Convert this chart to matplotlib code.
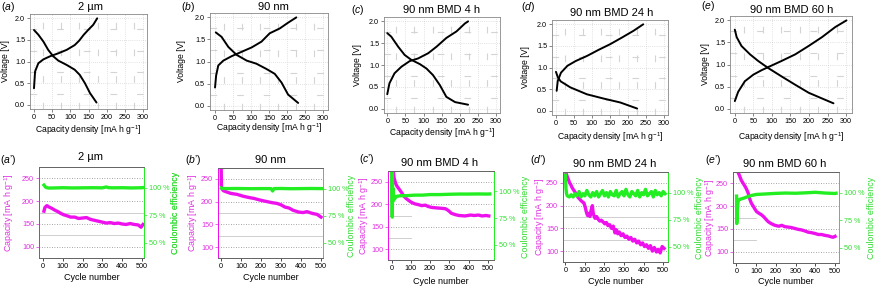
import numpy as np
import matplotlib
matplotlib.use("Agg")
import matplotlib.pyplot as plt
from matplotlib.ticker import MultipleLocator, FixedLocator

plt.rcParams['font.family'] = ['Liberation Sans', 'DejaVu Sans']
plt.rcParams['mathtext.fontset'] = 'custom'
plt.rcParams['mathtext.rm'] = 'Liberation Sans'
plt.rcParams['mathtext.it'] = 'Liberation Sans:italic'

MAG = '#ee11ee'
GRN = '#22ee22'
MAG_T = '#e030e0'
GRN_T = '#30dd30'

# ---------------- charge / discharge curves (top row) ----------------
titles_top = ['2 µm', '90 nm', '90 nm BMD 4 h', '90 nm BMD 24 h', '90 nm BMD 60 h']
titles_bot = titles_top
letters = ['a', 'b', 'c', 'd', 'e']

chg_x = [
    [0, 3, 12, 26, 44, 67, 90, 112, 124, 137, 149, 163, 174],
    [0, 3, 9, 23, 46, 74, 102, 129, 152, 180, 203, 226],
    [0, 6, 20, 39, 62, 85, 113, 136, 163, 191, 214, 223],
    [2, 5, 14, 32, 55, 87, 119, 151, 183, 216, 243],
    [0, 9, 27, 50, 72, 95, 126, 163, 199, 235, 271, 301],
]
chg_v = [
    [0.38, 0.77, 0.96, 1.05, 1.12, 1.19, 1.27, 1.38, 1.48, 1.62, 1.73, 1.85, 2.0],
    [0.41, 0.68, 0.91, 1.02, 1.12, 1.22, 1.32, 1.45, 1.64, 1.75, 1.88, 2.0],
    [0.33, 0.58, 0.81, 0.96, 1.09, 1.15, 1.27, 1.42, 1.62, 1.77, 1.95, 2.0],
    [0.46, 0.69, 0.88, 1.04, 1.15, 1.27, 1.41, 1.54, 1.69, 1.85, 2.0],
    [0.17, 0.38, 0.62, 0.77, 0.87, 0.96, 1.08, 1.23, 1.42, 1.62, 1.85, 2.0],
]
dis_x = [
    [0, 12, 26, 39, 53, 67, 90, 112, 126, 140, 154, 172],
    [2, 18, 37, 60, 88, 115, 143, 166, 185, 203, 231],
    [0, 11, 30, 48, 66, 90, 108, 126, 145, 163, 187, 223],
    [0, 5, 13, 40, 86, 133, 179, 226],
    [0, 5, 18, 41, 63, 90, 126, 163, 199, 235, 266],
]
dis_v = [
    [1.73, 1.62, 1.46, 1.27, 1.12, 1.02, 0.92, 0.81, 0.69, 0.50, 0.27, 0.05],
    [1.66, 1.56, 1.33, 1.15, 1.02, 0.95, 0.83, 0.72, 0.52, 0.25, 0.06],
    [1.73, 1.65, 1.42, 1.23, 1.12, 1.02, 0.92, 0.77, 0.54, 0.27, 0.15, 0.09],
    [0.9, 0.78, 0.68, 0.54, 0.38, 0.28, 0.19, 0.05],
    [1.79, 1.62, 1.42, 1.23, 1.08, 0.92, 0.73, 0.54, 0.36, 0.23, 0.12],
]

# ---------------- cycling data (bottom row) ----------------
cap_cyc = [
    [5, 10, 20, 30, 45, 60, 75, 90, 105, 120, 140, 160, 180, 200, 220, 240, 260, 280,
     300, 320, 340, 360, 380, 400, 420, 440, 460, 480, 495, 505],
    [1, 2, 5, 12, 30, 50, 80, 110, 140, 166, 190, 220, 252, 280, 300, 320, 340, 360,
     389, 410, 430, 457, 480, 500],
    [3, 6, 9, 13, 17, 22, 28, 35, 45, 55, 61, 75, 90, 104, 120, 140, 156, 175, 190, 208,
     230, 260, 280, 295, 310, 330, 350, 382, 410, 430, 451, 470, 490, 505],
    [3, 8, 13, 18, 22, 28, 34, 40, 46, 52, 58, 65, 72, 80, 88, 95, 102, 108, 114, 120,
     126, 132, 138, 142, 146, 152, 160, 168, 176, 184, 193, 202, 210, 218, 227, 236, 245,
     254, 261, 268, 276, 285, 295, 305, 315, 325, 335, 345, 355, 365, 375, 385, 395, 405,
     415, 425, 435, 445, 455, 466, 475, 485, 495, 505],
    [5, 10, 16, 25, 35, 45, 51, 60, 68, 76, 85, 93, 102, 115, 127, 140, 150, 161, 175, 195,
     215, 230, 246, 265, 280, 297, 315, 330, 345, 364, 380, 400, 415, 432, 450, 465, 480,
     490, 500],
]
cap_val = [
    [178, 186, 190, 187, 184, 180, 177, 173, 170, 168, 165, 165, 162, 163, 164, 160, 158, 156,
     154, 152, 153, 151, 152, 150, 149, 151, 149, 148, 143, 149],
    [276, 236, 228, 224, 221, 218, 216, 212, 209, 207, 204, 201, 198, 196, 193, 188, 186, 181,
     177, 176, 178, 174, 172, 166],
    [262, 275, 271, 258, 252, 245, 240, 236, 230, 224, 219, 213, 208, 204, 201, 199, 197, 198,
     195, 193, 192, 191, 190, 186, 180, 177, 175, 174, 176, 175, 176, 174, 175, 174],
    [272, 266, 260, 255, 250, 246, 240, 236, 232, 228, 224, 218, 215, 211, 208, 206, 196, 185,
     178, 183, 176, 190, 200, 185, 178, 172, 176, 170, 166, 168, 164, 160, 163, 156, 158, 150,
     155, 140, 147, 138, 142, 134, 138, 130, 133, 126, 130, 122, 126, 118, 122, 114, 118, 110,
     114, 106, 112, 100, 108, 98, 104, 96, 110, 106],
    [276, 272, 266, 256, 249, 242, 237, 228, 215, 206, 200, 194, 188, 184, 181, 176, 171, 166,
     162, 158, 156, 158, 155, 154, 153, 151, 149, 148, 146, 143, 142, 140, 138, 138, 136, 135,
     133, 132, 134],
]
ce_cyc = [
    [5, 15, 30, 60, 100, 150, 200, 250, 300, 320, 330, 350, 400, 450, 500, 510],
    [1, 5, 30, 80, 150, 200, 250, 258, 265, 300, 350, 400, 450, 500, 510],
    [1, 2, 3, 4, 5, 6, 8, 10, 13, 16, 20, 30, 50, 80, 120, 160, 200, 250, 300, 350, 400, 450,
     500, 510],
    [1, 3, 6, 10, 20, 30, 40, 50, 60, 70, 80, 90, 100, 110, 120, 130, 140, 150, 160, 170, 180,
     190, 200, 210, 220, 230, 240, 250, 260, 270, 280, 290, 300, 310, 320, 330, 340, 350, 360,
     370, 380, 390, 400, 410, 420, 430, 440, 450, 460, 470, 480, 490, 500, 510],
    [1, 2, 4, 6, 8, 10, 14, 18, 25, 35, 50, 75, 100, 150, 200, 250, 300, 350, 400, 450, 500, 505],
]
ce_val = [
    [102.5, 100.3, 99.8, 99.9, 100.1, 99.9, 100.0, 100.1, 100.0, 100.8, 100.2, 100.0, 100.1,
     99.9, 100.1, 100.4],
    [100.5, 100.2, 100.0, 100.1, 99.9, 100.0, 100.0, 97.8, 100.0, 100.1, 99.9, 100.0, 100.1,
     100.0, 100.0],
    [98, 118, 76, 110, 90, 103, 95, 92, 96, 93, 95, 95.5, 96, 96, 96.5, 96.5, 97, 97, 97.3,
     97.5, 97.5, 97.6, 97.5, 97.6],
    [116, 104, 99, 97, 96, 98, 96, 99, 97, 101, 96, 99, 97, 102, 98, 96, 100, 97, 101, 96, 99,
     102, 97, 100, 96, 101, 98, 97, 102, 96, 99, 101, 97, 103, 98, 96, 101, 99, 97, 102, 96,
     100, 98, 103, 97, 99, 101, 96, 102, 98, 100, 97, 101, 99],
    [97, 72, 80, 87, 91, 93, 94, 94, 94.5, 95, 96, 97.5, 98.5, 99, 99.5, 99.8, 99.6, 100,
     100.5, 99.8, 99.4, 99.6],
]

# ---------------- layout (pixel boxes: left, top, right, bottom) ----------------
W, H = 876, 288
fig = plt.figure(figsize=(8.76, 2.88), dpi=100)

top_boxes = [(30, 14, 147, 109), (210, 13, 328, 110), (384, 17, 500, 113),
             (552, 20, 668, 115), (730, 16, 852, 113)]
top_xlims = [(-11, 311), (-14, 314), (-9, 311), (-11, 312), (-13, 316)]
bot_boxes = [(39, 167, 144, 258), (218, 168, 323, 258), (388, 171, 494, 260),
             (563, 172, 668, 262), (733, 172, 839, 263)]
bot_xlims = [(-20, 510), (-15, 510), (-19, 532), (-12, 525), (-17, 520)]
partial_lines = [False, False, True, False, True]


def place(box):
    l, t, r, b = box
    return fig.add_axes([l / W, 1 - b / H, (r - l) / W, (b - t) / H])


def ftext(x, y, s, **kw):
    kw.setdefault('ha', 'center')
    kw.setdefault('va', 'center')
    fig.text(x / W, 1 - y / H, s, **kw)


for i in range(5):
    ax = place(top_boxes[i])
    ax.plot(chg_x[i], chg_v[i], color='black', lw=1.4, solid_capstyle='round',
            solid_joinstyle='round')
    ax.plot(dis_x[i], dis_v[i], color='black', lw=1.4, solid_capstyle='round',
            solid_joinstyle='round')
    ax.set_xlim(top_xlims[i])
    ax.set_ylim(-0.1, 2.1)
    ax.xaxis.set_major_locator(MultipleLocator(50))
    ax.yaxis.set_major_locator(MultipleLocator(0.5))
    ax.xaxis.set_minor_locator(MultipleLocator(25))
    ax.yaxis.set_minor_locator(MultipleLocator(0.25))
    ax.yaxis.set_major_formatter(matplotlib.ticker.FormatStrFormatter('%.1f'))
    ax.grid(which='major', color='#c8c8c8', lw=0.5, ls=(0, (1, 2)))
    ax.grid(which='minor', color='#d4d4d4', lw=0.8, ls=(0, (6, 18)))
    ax.tick_params(which='major', labelsize=5.2, length=2, width=0.5, pad=1.5, color='#555555')
    ax.tick_params(which='minor', length=0)
    for s in ax.spines.values():
        s.set_color('#888888')
        s.set_linewidth(0.6)
    ax.set_axisbelow(True)

# top-row texts
top_title_pos = [(90, 7), (273, 7), (442, 10), (612, 13), (792, 10)]
top_letter_pos = [(8, 7), (188, 7), (358, 10), (528, 7), (708, 6)]
top_ylab_x = [6, 181, 357, 525, 705]
top_xlab_y = [130, 128, 133, 137, 137]
for i in range(5):
    l, t, r, b = top_boxes[i]
    ftext(*top_title_pos[i], titles_top[i], fontsize=8)
    ftext(*top_letter_pos[i], '($\\mathit{%s}$)' % letters[i], fontsize=7.5)
    ftext(top_ylab_x[i], (t + b) / 2, 'Voltage [V]', fontsize=6.2, rotation=90)
    ftext((l + r) / 2, top_xlab_y[i], 'Capacity density [mA h g$^{-1}$]', fontsize=6.2)

# ---------------- bottom row ----------------
for i in range(5):
    ax = place(bot_boxes[i])
    ax.set_xlim(bot_xlims[i])
    ax.set_ylim(76, 274)
    ax.yaxis.set_major_locator(FixedLocator([100, 150, 200, 250]))
    ax.xaxis.set_major_locator(MultipleLocator(100))
    ax.grid(axis='y', color='#888888', lw=0.6, ls=(0, (1, 2)))
    x_end = 100 if partial_lines[i] else bot_xlims[i][1]
    for yv in [125, 175]:
        ax.plot([bot_xlims[i][0], x_end], [yv, yv], color='#c8c8c8', lw=0.6, zorder=1)
    ax.plot(cap_cyc[i], cap_val[i], color=MAG, lw=2.4, zorder=3)
    ax.tick_params(labelsize=5.2, length=2, width=0.5, pad=1.5)
    ax.tick_params(axis='y', colors=MAG_T)
    ax.tick_params(axis='x', colors='black')
    ax.set_axisbelow(True)

    ax2 = ax.twinx()
    ax2.set_ylim(36, 119)
    ax2.plot(ce_cyc[i], ce_val[i], color=GRN, lw=2.4)
    ax2.yaxis.set_major_locator(FixedLocator([50, 75, 100]))
    ax2.set_yticklabels(['50 %', '75 %', '100 %'])
    ax2.tick_params(labelsize=5.2, length=2, width=0.5, pad=1.5, colors=GRN_T)
    for a in (ax, ax2):
        a.spines['left'].set_color(MAG)
        a.spines['right'].set_color(GRN)
        a.spines['top'].set_color('#666666')
        a.spines['bottom'].set_color('#666666')
        for s in a.spines.values():
            s.set_linewidth(0.7)

bot_title_pos = [(90, 157), (270, 160), (440, 163), (615, 164), (785, 164)]
bot_letter_pos = [(8, 160), (193, 160), (367, 159), (538, 160), (713, 160)]
bot_xlab_y = [278, 278, 282, 282, 282]
cap_lab_x = [9, 193, 364, 540, 710]
ce_left_x = [None, 175, 351, 525, 699]
ce_right_x = [175, None, None, None, 872]
for i in range(5):
    l, t, r, b = bot_boxes[i]
    ftext(*bot_title_pos[i], titles_bot[i], fontsize=8)
    ftext(*bot_letter_pos[i], '($\\mathit{%s}$\u2019)' % letters[i], fontsize=7.5)
    ftext((l + r) / 2, bot_xlab_y[i], 'Cycle number', fontsize=6.5)
    ftext(cap_lab_x[i], (t + b) / 2, 'Capacity [mA h g$^{-1}$]', fontsize=6.4,
          rotation=90, color=MAG_T)
    if ce_left_x[i] is not None:
        ftext(ce_left_x[i], (t + b) / 2, 'Coulombic efficiency', fontsize=6.4,
              rotation=90, color=GRN_T)
    if ce_right_x[i] is not None:
        ftext(ce_right_x[i], (t + b) / 2, 'Coulombic efficiency', fontsize=6.4,
              rotation=90, color=GRN_T)

fig.savefig('out.png', dpi=100)
